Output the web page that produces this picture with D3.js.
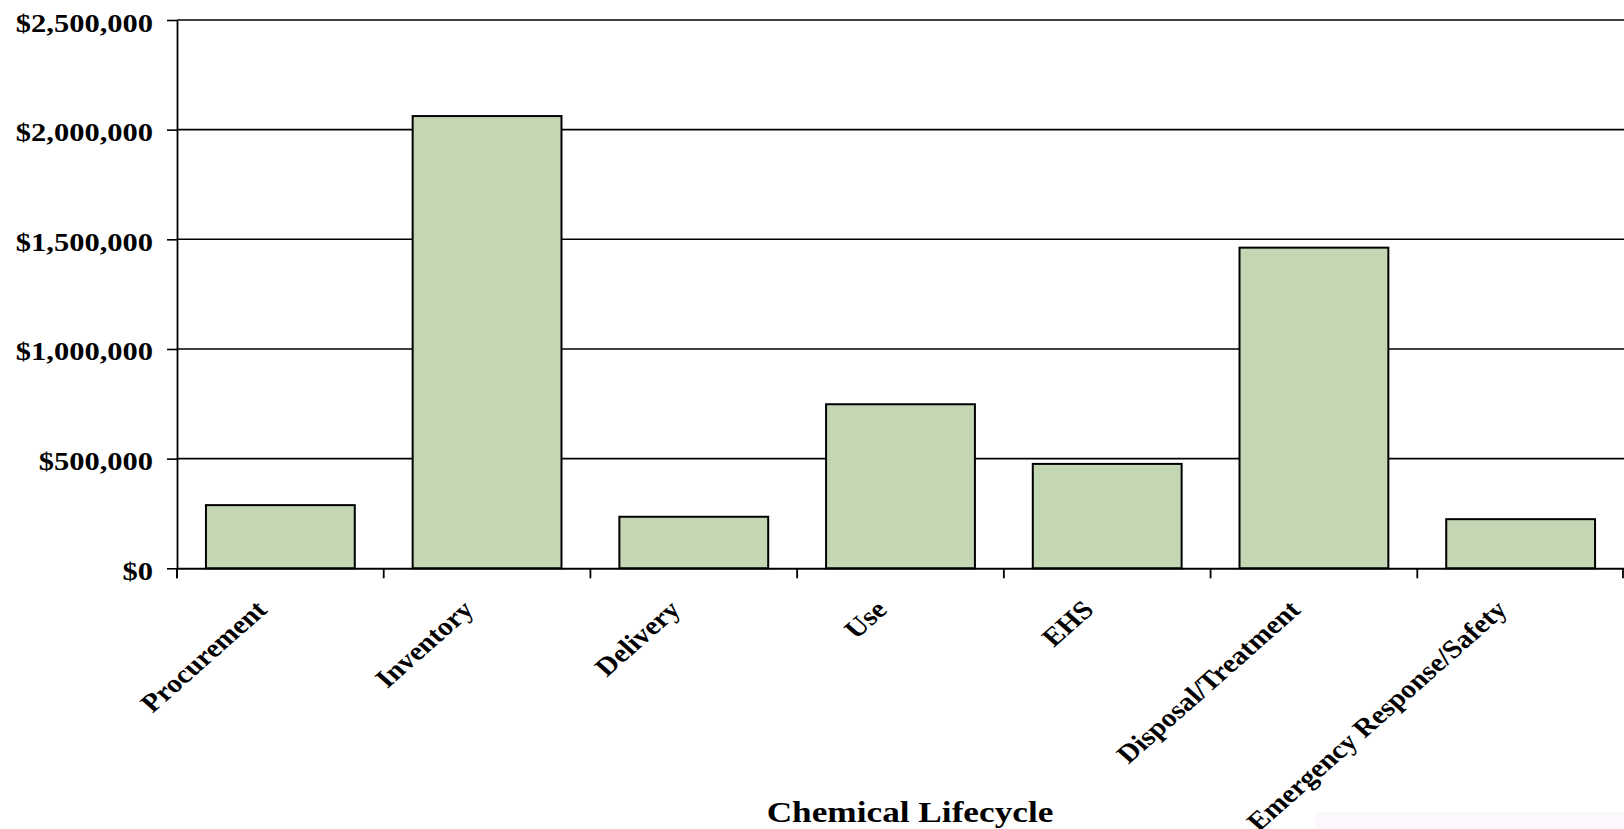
<!DOCTYPE html>
<html>
<head>
<meta charset="utf-8">
<script src="https://cdn.jsdelivr.net/npm/d3@7"></script>
<style>
  html, body { margin: 0; padding: 0; background: #ffffff; }
  svg { display: block; }
  text { font-family: "Liberation Serif", "Times New Roman", serif; font-weight: bold; fill: #000; }
</style>
</head>
<body>
<svg id="chart" width="1624" height="829"></svg>
<script>
// ---- data ----
const categories = ["Procurement", "Inventory", "Delivery", "Use", "EHS", "Disposal/Treatment", "Emergency Response/Safety"];
const costs = [288000, 2062000, 235000, 748000, 476000, 1462000, 224000];
const yTickValues = [0, 500000, 1000000, 1500000, 2000000, 2500000];
const xAxisTitle = "Chemical Lifecycle";

// ---- layout ----
const W = 1624, H = 829;
const plotLeft = 177, plotRight = 1624, plotTop = 20, plotBottom = 568.3;
const stretch = 1.13;

const svg = d3.select("#chart");

const x = d3.scaleBand().domain(categories).range([plotLeft, plotRight])
  .paddingInner(0.28).paddingOuter(0.14);
const y = d3.scaleLinear().domain([0, 2500000]).range([plotBottom, plotTop]);
const fmt = v => "$" + d3.format(",")(v);

// faint legend remnant at bottom right
svg.append("rect").attr("x", 1315).attr("y", 812).attr("width", W - 1315).attr("height", H - 812)
  .attr("fill", "#fcf7fd");

// gridlines
svg.append("g").selectAll("line").data(yTickValues.filter(d => d > 0)).join("line")
  .attr("x1", plotLeft).attr("x2", plotRight)
  .attr("y1", d => y(d)).attr("y2", d => y(d))
  .attr("stroke", "#000").attr("stroke-width", 1.6);

// bars
svg.append("g").selectAll("rect").data(categories).join("rect")
  .attr("x", d => x(d))
  .attr("y", (d, i) => y(costs[i]))
  .attr("width", x.bandwidth())
  .attr("height", (d, i) => y(0) - y(costs[i]))
  .attr("fill", "#c4d7b5")
  .attr("stroke", "#000").attr("stroke-width", 2);

// y axis
const yAxis = d3.axisLeft(y).tickValues(yTickValues).tickFormat("").tickSizeInner(10).tickSizeOuter(0);
const gy = svg.append("g").attr("transform", `translate(${plotLeft},0)`).call(yAxis);
gy.select(".domain").attr("stroke", "#000").attr("stroke-width", 1.8);
gy.selectAll(".tick line").attr("stroke", "#000").attr("stroke-width", 1.6);
svg.append("line").attr("x1", plotLeft).attr("x2", plotLeft).attr("y1", plotBottom).attr("y2", plotBottom + 10)
  .attr("stroke", "#000").attr("stroke-width", 1.8);

// y tick labels (horizontally stretched like the reference)
svg.append("g").selectAll("text").data(yTickValues).join("text")
  .attr("transform", d => `translate(153,${y(d) + 11.5}) scale(1.22,1)`)
  .attr("text-anchor", "end")
  .style("font-size", "25px")
  .text(d => fmt(d));

// x axis line
const xAxis = d3.axisBottom(x).tickFormat("").tickSize(0).tickSizeOuter(0);
const gx = svg.append("g").attr("transform", `translate(0,${plotBottom})`).call(xAxis);
gx.select(".domain").attr("stroke", "#000").attr("stroke-width", 2);
gx.selectAll(".tick").remove();

// x ticks at category boundaries
const step = x.step();
const boundaries = categories.map(c => x(c) - x.paddingInner() * step / 2).concat([plotRight]);
svg.append("g").selectAll("line").data(boundaries).join("line")
  .attr("x1", d => Math.min(d, plotRight - 1)).attr("x2", d => Math.min(d, plotRight - 1))
  .attr("y1", plotBottom).attr("y2", plotBottom + 10)
  .attr("stroke", "#000").attr("stroke-width", 1.8);

// category labels
svg.append("g").selectAll("text").data(categories).join("text")
  .attr("transform", d => `translate(${x(d) + x.bandwidth() / 2 - 12},${plotBottom + 43}) scale(${stretch},1) rotate(-45)`)
  .attr("text-anchor", "end")
  .style("font-size", "26px")
  .text(d => d);

// axis title
svg.append("text")
  .attr("transform", `translate(910,822) scale(1.175,1)`)
  .attr("text-anchor", "middle")
  .style("font-size", "30px")
  .text(xAxisTitle);
</script>
</body>
</html>
